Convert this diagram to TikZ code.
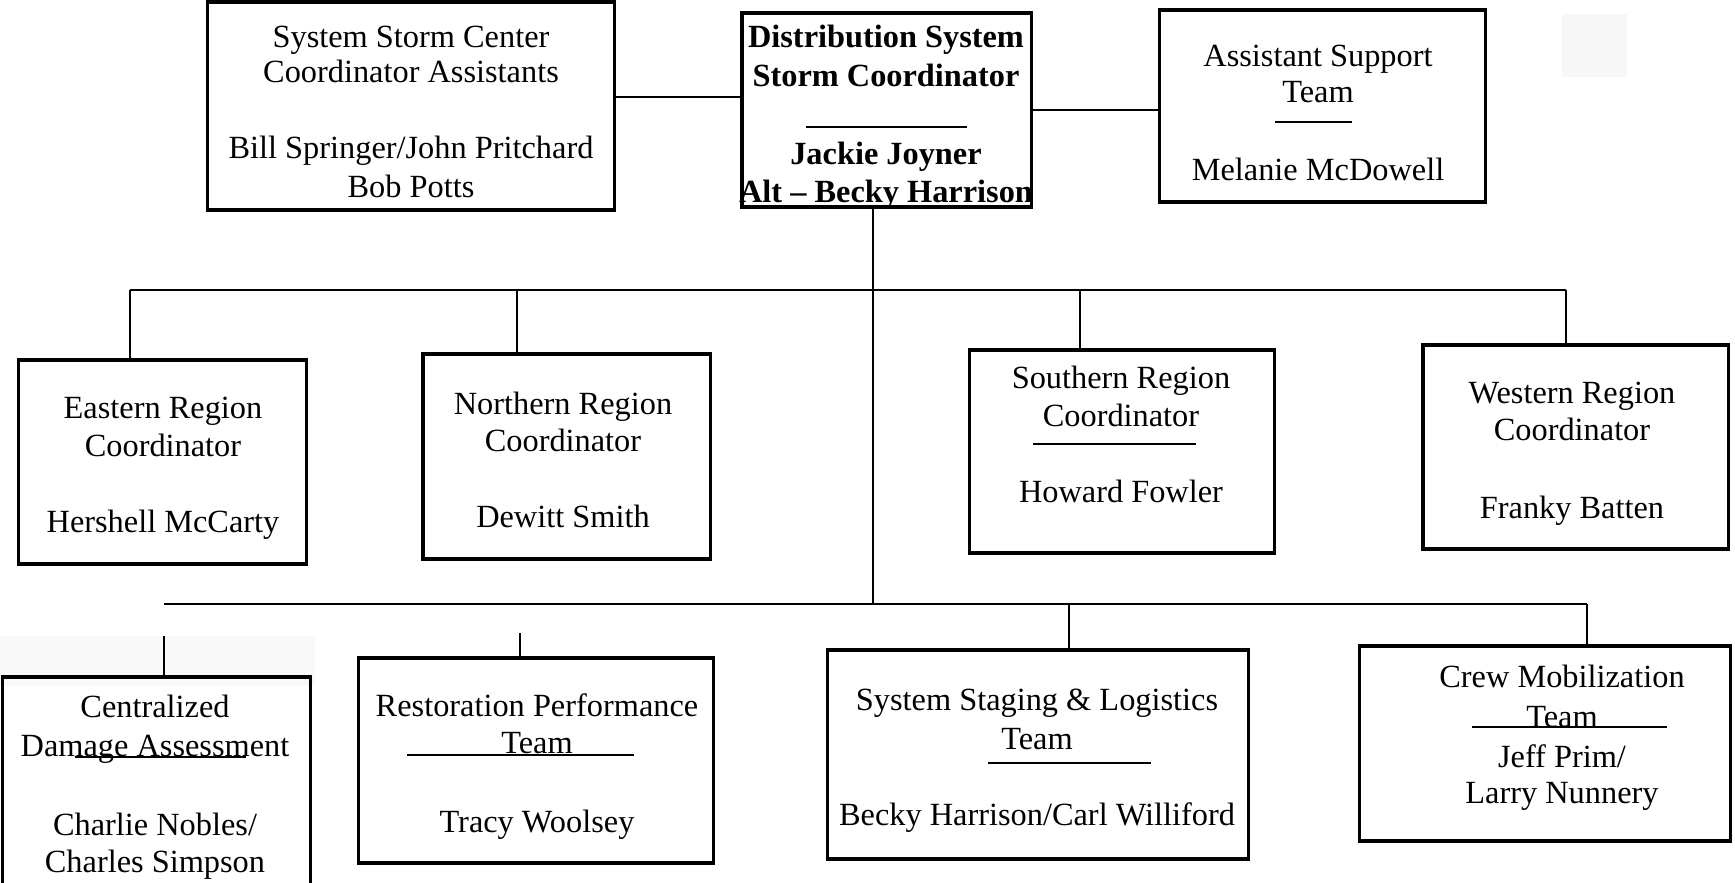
\documentclass[tikz,border=0pt]{standalone}
\usepackage{fontspec}
\setmainfont{Liberation Serif}
\usetikzlibrary{positioning}

\tikzset{
  orgbox/.style={draw, line width=0.9pt, inner sep=0pt},
  txt/.style={anchor=mid, inner sep=0pt, yshift=-0.9pt, font=\fontsize{9.2}{11}\selectfont},
  link/.style={line width=0.8pt},
  rulebar/.style={line width=0.8pt}
}

\begin{document}
\begin{tikzpicture}[x=0.01cm, y=-0.01cm]
\useasboundingbox (0,0) rectangle (1735,883);

% Faint scan patches
\fill[gray!6] (1562,14) rectangle (1627,77);
\fill[gray!5] (0,636) rectangle (315,686);

% Top row
\node[orgbox, minimum width=4.06cm, minimum height=2.08cm] (ssc) at (411,106) {};
\node[orgbox, minimum width=2.89cm, minimum height=1.94cm] (dssc) at (886.5,110) {};
\node[orgbox, minimum width=3.25cm, minimum height=1.92cm] (ast) at (1322.5,106) {};

\foreach \t/\yy [count=\i] in {System Storm Center/36, Coordinator Assistants/71,
    {Bill Springer/John Pritchard}/147, Bob Potts/186}
  \node[txt] (ssc-\i) at (411,\yy) {\t};
\foreach \t/\yy [count=\i] in {Distribution System/36, Storm Coordinator/75,
    Jackie Joyner/153, Alt -- Becky Harrison/191}
  \node[txt, font=\fontsize{9.2}{11}\selectfont\bfseries] (dssc-\i) at (886,\yy) {\t};
\draw[rulebar] (806,127) -- (967,127);
\foreach \t/\yy [count=\i] in {Assistant Support/55, Team/91, Melanie McDowell/169}
  \node[txt] (ast-\i) at (1318,\yy) {\t};
\draw[rulebar] (1275,122) -- (1352,122);

% Region coordinators
\node[orgbox, minimum width=2.88cm, minimum height=2.04cm] (east) at (162.5,462) {};
\node[orgbox, minimum width=2.87cm, minimum height=2.05cm] (north) at (566.5,456.5) {};
\node[orgbox, minimum width=3.04cm, minimum height=2.03cm] (south) at (1122,451.5) {};
\node[orgbox, minimum width=3.05cm, minimum height=2.04cm] (west) at (1575.5,447) {};

\foreach \t/\yy [count=\i] in {Eastern Region/407, Coordinator/445, Hershell McCarty/521}
  \node[txt] (east-\i) at (163,\yy) {\t};
\foreach \t/\yy [count=\i] in {Northern Region/403, Coordinator/440, Dewitt Smith/516}
  \node[txt] (north-\i) at (563,\yy) {\t};
\foreach \t/\yy [count=\i] in {Southern Region/377, Coordinator/415, Howard Fowler/491}
  \node[txt] (south-\i) at (1121,\yy) {\t};
\draw[rulebar] (1033,444) -- (1196,444);
\foreach \t/\yy [count=\i] in {Western Region/392, Coordinator/429, Franky Batten/507}
  \node[txt] (west-\i) at (1572,\yy) {\t};

% Teams
\node[orgbox, minimum width=3.07cm, minimum height=2.23cm] (cda) at (156.5,788.5) {};
\node[orgbox, minimum width=3.55cm, minimum height=2.05cm] (rpt) at (536,760.5) {};
\node[orgbox, minimum width=4.20cm, minimum height=2.09cm] (ssl) at (1038,754.5) {};
\node[orgbox, minimum width=3.70cm, minimum height=1.95cm] (crew) at (1545,743.5) {};

\foreach \t/\yy [count=\i] in {Centralized/706, Damage Assessment/745,
    {Charlie Nobles/}/824, Charles Simpson/861}
  \node[txt] (cda-\i) at (155,\yy) {\t};
\draw[rulebar] (75,757) -- (246,757);
\foreach \t/\yy [count=\i] in {Restoration Performance/705, Team/742, Tracy Woolsey/821}
  \node[txt] (rpt-\i) at (537,\yy) {\t};
\draw[rulebar] (407,755) -- (634,755);
\foreach \t/\yy [count=\i] in {System Staging \& Logistics/699, Team/738,
    {Becky Harrison/Carl Williford}/814}
  \node[txt] (ssl-\i) at (1037,\yy) {\t};
\draw[rulebar] (988,763) -- (1151,763);
\foreach \t/\yy [count=\i] in {Crew Mobilization/676, Team/716,
    {Jeff Prim/}/756, Larry Nunnery/792}
  \node[txt] (crew-\i) at (1562,\yy) {\t};
\draw[rulebar] (1472,727) -- (1667,727);

% Connectors
\draw[link] (ssc.east |- 0,97) -- (dssc.west |- 0,97);
\draw[link] (dssc.east) -- (dssc.east -| ast.west);
\coordinate (trunk) at (873,604);
\draw[link] (dssc.south -| trunk) -- (trunk);

\foreach \b/\x in {east/130, north/517, south/1080, west/1566}{
  \coordinate (bus1-\b) at (\x,290);
  \draw[link] (bus1-\b) -- (bus1-\b |- \b.north);
}
\draw[link] (bus1-east) -- (bus1-west);

\foreach \b/\x/\yy in {cda/164/636, rpt/520/633, ssl/1069/604, crew/1587/604}{
  \coordinate (bus2-\b) at (\x,\yy);
  \draw[link] (bus2-\b) -- (bus2-\b |- \b.north);
}
\draw[link] (bus2-cda |- trunk) -- (bus2-crew);

\end{tikzpicture}
\end{document}
